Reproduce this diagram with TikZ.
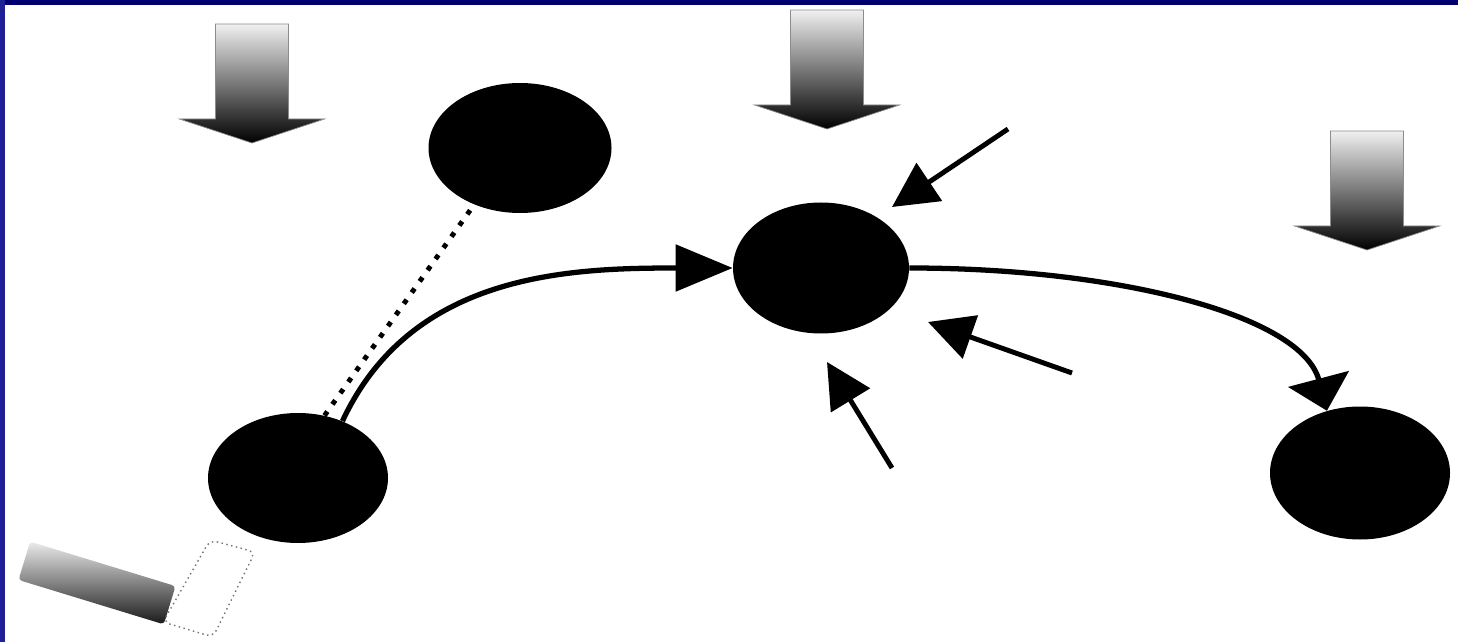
\documentclass[tikz,border=0pt]{standalone}
\usepackage{tikz}
\usetikzlibrary{arrows.meta, shapes.geometric}
\definecolor{bandtop}{RGB}{0, 0, 112}
\definecolor{bandside}{RGB}{32, 32, 150}
\tikzset{
  blob/.style={ellipse, fill=black, inner sep=0pt, minimum width=3.6cm, minimum height=2.6cm},
  flowin/.style={line width=3pt, -{Triangle[length=1.14cm, width=0.92cm]}},
  flowout/.style={line width=3pt, -{Triangle[length=0.66cm, width=1.24cm]}},
  push/.style={line width=2.8pt, -{Triangle[length=0.9cm, width=0.9cm]}}
}

\begin{document}
\begin{tikzpicture}
  \useasboundingbox (0, 0) rectangle (29.16, 12.84);
  \fill[white] (0, 0) rectangle (29.16, 12.84);
  \fill[bandtop] (0, 12.74) rectangle (29.16, 12.84);
  \fill[bandside] (0, 0) rectangle (0.1, 12.84);

  % shaded arrows coming down
  \foreach \x/\y in {5.04/9.98, 16.54/10.26, 27.34/7.84} {
    \shade[top color=black!6, bottom color=black, draw=black!45, line width=0.4pt]
      (\x, \y) -- (\x - 1.45, \y + 0.48) -- (\x - 0.73, \y + 0.48) -- (\x - 0.73, \y + 2.38)
      -- (\x + 0.73, \y + 2.38) -- (\x + 0.73, \y + 0.48) -- (\x + 1.45, \y + 0.48) -- cycle;
  }

  \node[blob] (src) at (5.96, 3.28) {};
  \node[blob, minimum width=3.66cm] (aux) at (10.40, 9.88) {};
  \node[blob, minimum width=3.52cm, minimum height=2.62cm] (hub) at (16.42, 7.48) {};
  \node[blob, minimum height=2.66cm] (dst) at (27.2, 3.38) {};

  \draw[line width=2.8pt, dash pattern=on 2.8pt off 5pt] (src.67) -- (aux.231);

  \draw[flowin] (src.52) to[out=65, in=180] (hub.west);
  \draw[flowout] (hub.east) .. controls +(4.2, 0) and +(-0.5, 1.9) .. (dst.118);

  % pushes on the hub
  \coordinate (n1) at (20.16, 10.26);
  \coordinate (n1t) at (17.84, 8.70);
  \coordinate (n2) at (21.44, 5.38);
  \coordinate (n2t) at (18.56, 6.40);
  \coordinate (n3) at (17.84, 3.48);
  \coordinate (n3t) at (16.54, 5.60);
  \foreach \a in {n1, n2, n3} {
    \draw[push] (\a) -- (\a t);
  }

  % lever and its slot
  \node[rotate=-17, minimum width=3.04cm, minimum height=0.8cm, inner sep=0pt,
        rounded corners=2pt, top color=black!8, bottom color=black!90] (lever) at (1.94, 1.18) {};
  \draw[black!55, line width=0.8pt, dash pattern=on 0.8pt off 2pt, rounded corners=4pt]
    (4.20, 2.04) -- (5.10, 1.80) -- (4.26, 0.10) -- (3.26, 0.40) -- cycle;
\end{tikzpicture}
\end{document}
